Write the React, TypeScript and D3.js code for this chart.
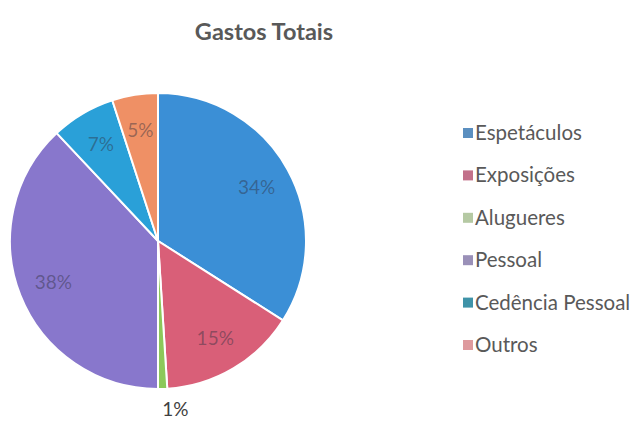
import React from "react";
import * as d3 from "d3";

const categories = ["Espetáculos", "Exposições", "Alugueres", "Pessoal", "Cedência Pessoal", "Outros"];
const values = [34, 15, 1, 38, 7, 5];
const labels = ["34%", "15%", "1%", "38%", "7%", "5%"];
const colors = ["#3b8fd6", "#d95f78", "#8cc85a", "#8877cc", "#2aa0d8", "#ef9065"];
const legendColors = ["#5b8fc0", "#c2708a", "#b5c9a3", "#9a90b8", "#3f93a8", "#de9a9e"];
const title = "Gastos Totais";

export default function App() {
  const W = 640, H = 421;
  const cx = 158, cy = 241, r = 148;
  const pie = d3.pie<number>().sort(null).value((d) => d)(values);
  const arc = d3.arc<d3.PieArcDatum<number>>().innerRadius(0).outerRadius(r);
  const labelArc = d3.arc<d3.PieArcDatum<number>>().innerRadius(r * 0.76).outerRadius(r * 0.76);
  const legendY = d3.scalePoint<string>().domain(categories).range([133, 345]);
  const font = "Lato, 'Open Sans', sans-serif";
  return (
    <svg width={W} height={H} style={{ position: "absolute", left: 0, top: 0, background: "#fff" }}>
      <text x={264} y={40} textAnchor="middle" fontFamily={font} fontWeight="bold" fontSize={23.5} fill="#595959">
        {title}
      </text>
      <g transform={`translate(${cx},${cy})`}>
        {pie.map((p, i) => (
          <path key={i} d={arc(p) || ""} fill={colors[i]} stroke="#fff" strokeWidth={2} />
        ))}
        {pie.map((p, i) => {
          if (i === 2) {
            const a = (p.startAngle + p.endAngle) / 2;
            const x = Math.sin(a) * (r + 20);
            const y = -Math.cos(a) * (r + 20);
            return (
              <text key={i} x={x + 12} y={y + 7} textAnchor="middle" fontFamily={font} fontSize={19} fill="#404040">
                {labels[i]}
              </text>
            );
          }
          const [x, y] = labelArc.centroid(p);
          return (
            <text key={i} x={x} y={y + 7} textAnchor="middle" fontFamily={font} fontSize={19} fill="#303040" fillOpacity={0.45}>
              {labels[i]}
            </text>
          );
        })}
      </g>
      {categories.map((c, i) => {
        const y = legendY(c) as number;
        return (
          <g key={c}>
            <rect x={463} y={y - 5} width={10} height={10} fill={legendColors[i]} />
            <text x={475} y={y + 7} fontFamily={font} fontSize={20.5} fill="#595959">
              {c}
            </text>
          </g>
        );
      })}
    </svg>
  );
}
